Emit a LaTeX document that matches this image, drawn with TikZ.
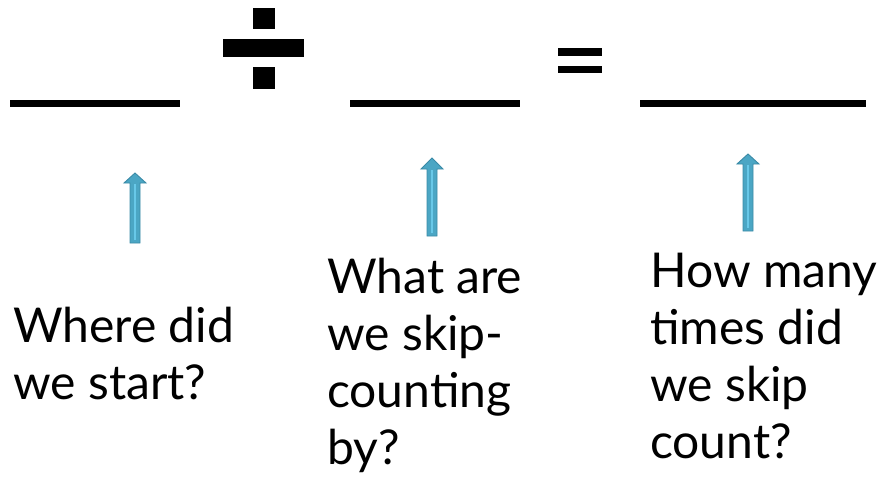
\documentclass[tikz,border=0pt]{standalone}
\usepackage{fontspec}
\setmainfont{Lato}
\definecolor{arrowfill}{RGB}{75,166,196}
\definecolor{arrowedge}{RGB}{58,138,166}
\definecolor{arrowshine}{RGB}{104,200,232}
% block arrow pointing up: #1 centre x, #2 tip y, #3 head base y, #4 tail y
\newcommand\tealarrow[4]{%
  \filldraw[fill=arrowfill, draw=arrowedge, line width=0.9pt, line join=miter]
    (#1-5,#4) -- (#1-5,#3) -- (#1-11,#3) -- (#1,#2) -- (#1+11,#3)
    -- (#1+5,#3) -- (#1+5,#4) -- cycle;
  \draw[arrowshine, line width=1.8pt] (#1,#4-3) -- (#1,#3+1);
}
\tikzset{
  blank/.style={fill=black, inner sep=0pt, minimum height=7pt, outer sep=0pt},
  question/.style={anchor=base west, inner sep=0pt,
    font=\fontsize{48}{57}\selectfont},
}
\begin{document}
\begin{tikzpicture}[x=1pt, y=-1pt]
  \useasboundingbox (0,0) rectangle (882,476);

  % the three blanks of the division sentence
  \node[blank, minimum width=170pt] (dividend) at (95,103.5) {};
  \node[blank, minimum width=170pt] (divisor)  at (435,103.5) {};
  \node[blank, minimum width=226pt] (quotient) at (753,103.5) {};

  % division sign
  \fill (253,8) rectangle (275,29);
  \fill (223,39) rectangle (304,57);
  \fill (253,67) rectangle (275,89);

  % equals sign
  \fill (558,48) rectangle (602,56);
  \fill (558,66) rectangle (602,73);

  % arrows pointing up at each blank
  \tealarrow{135}{173}{183}{243}
  \tealarrow{432}{158}{169}{236}
  \tealarrow{748}{154}{164}{231}

  % questions under the blanks
  \node[question] (qstart) at (13,342)
    {\begin{tabular}[t]{@{}l@{}}Where did\\we start?\end{tabular}};
  \node[question] (qskip) at (327,293)
    {\begin{tabular}[t]{@{}l@{}}What are\\we skip-\\counting\\by?\end{tabular}};
  \node[question] (qtimes) at (650,287)
    {\begin{tabular}[t]{@{}l@{}}How many\\times did\\we skip\\count?\end{tabular}};
\end{tikzpicture}
\end{document}
